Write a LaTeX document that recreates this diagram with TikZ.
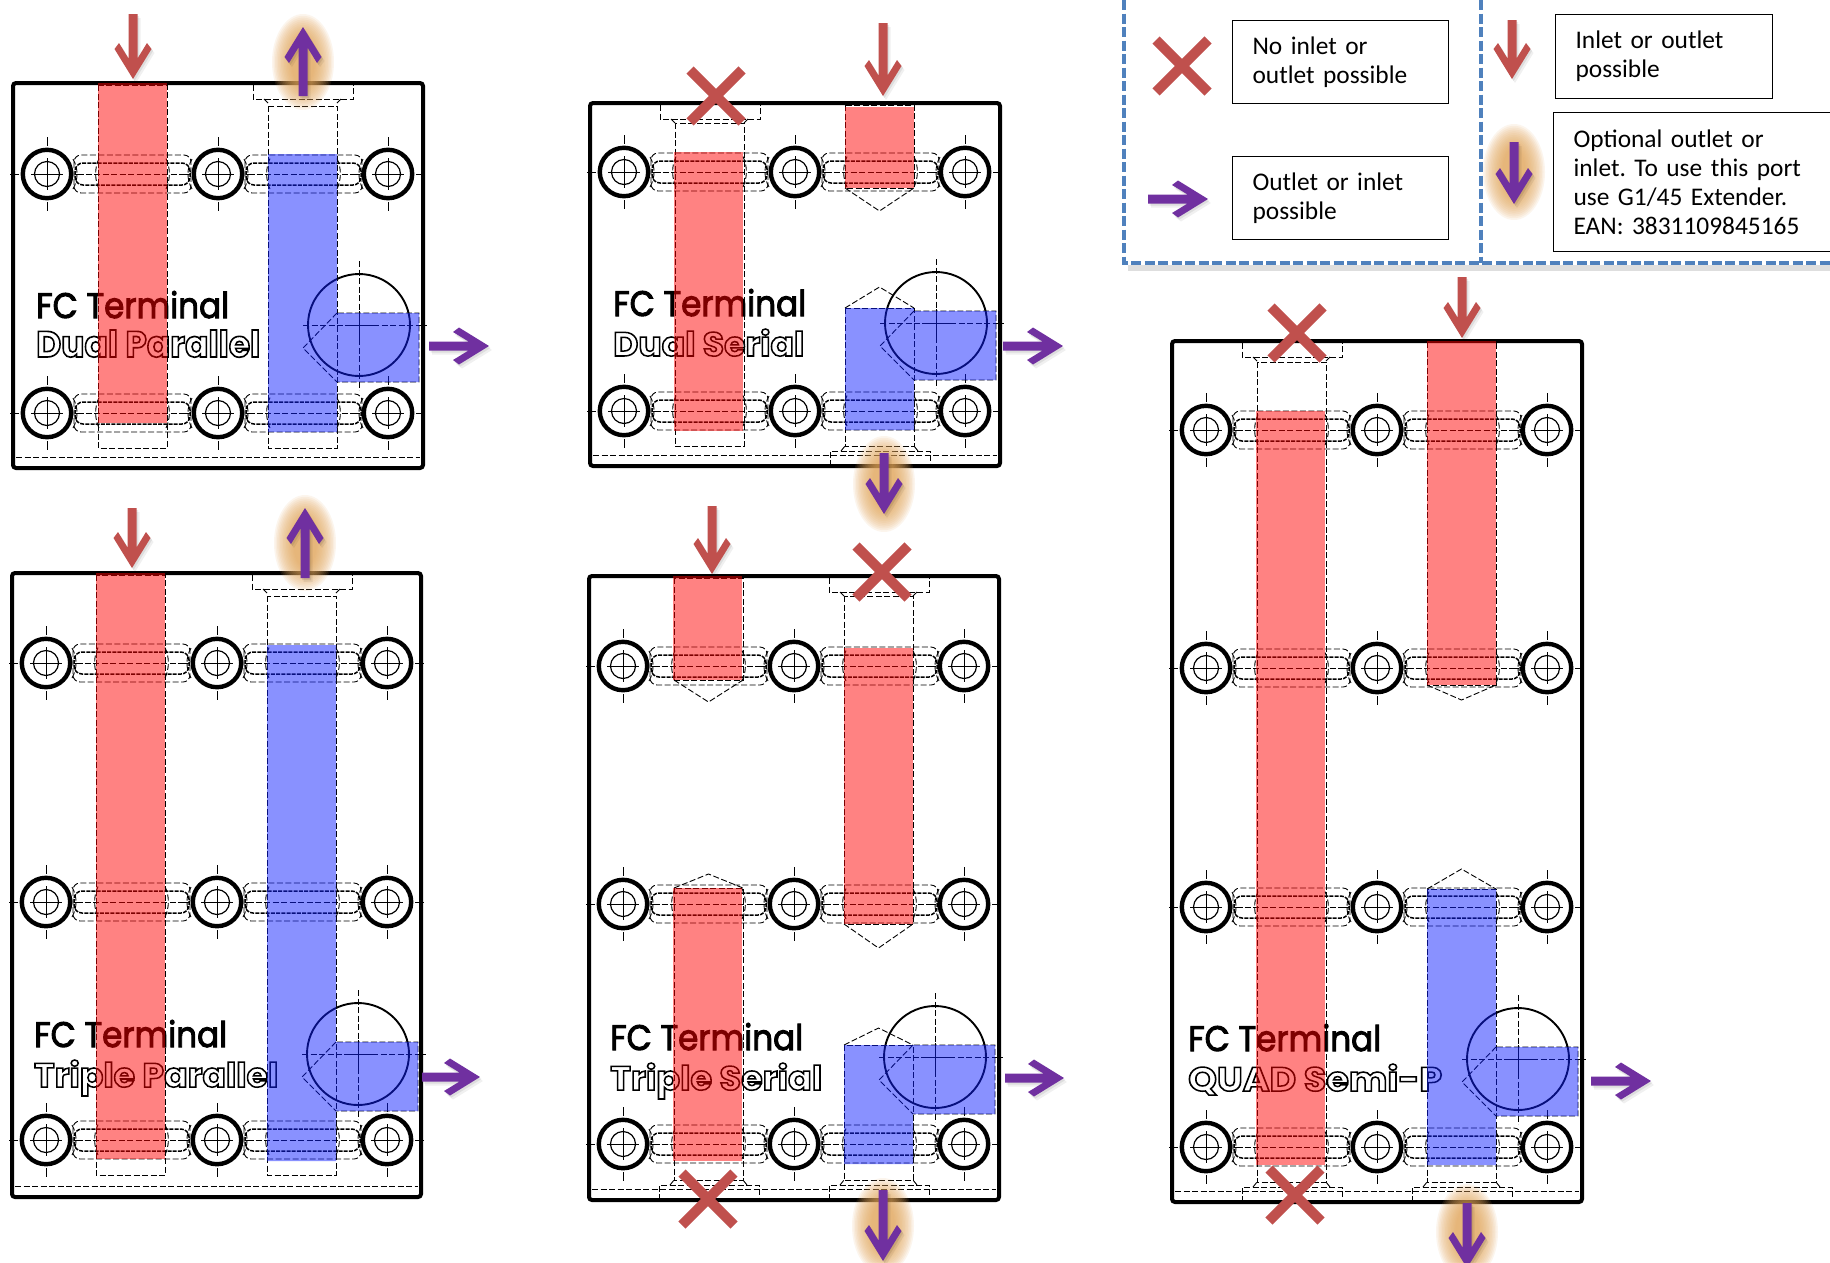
\documentclass[tikz,border=0pt]{standalone}
\usepackage{fontspec}
\setmainfont[WordSpace=0.8]{Carlito}
\newfontfamily\platefont{Poppins}
\definecolor{arrowred}{HTML}{C0504D}
\definecolor{arrowpurple}{HTML}{7030A0}
\definecolor{legendblue}{HTML}{4F81BD}
\definecolor{glowtone}{HTML}{E4A85C}
\tikzset{
  dsh/.style={line width=0.9pt,dash pattern=on 6pt off 2.5pt},
  denseline/.style={line width=1.5pt,dash pattern=on 4pt off 1.2pt},
  platebox/.style={line width=4pt,rounded corners=3pt},
  redzone/.style={fill={rgb,255:red,255;green,0;blue,0},fill opacity=.49},
  bluezone/.style={fill={rgb,255:red,16;green,32;blue,255},fill opacity=.49},
  legbox/.style={draw=black,line width=1.1pt,anchor=north west,align=left,inner xsep=20pt,inner ysep=0pt,
     font=\fontsize{25.4}{29}\selectfont\frenchspacing},
  legline/.style={draw=legendblue,line width=4pt,dash pattern=on 10pt off 3.5pt},
  legshadow/.style={draw=black,opacity=.13,line width=6pt},
  platelabel/.style={anchor=base west,inner sep=0pt},
  crossmark/.style={draw=arrowred,line width=10pt}
}
\newcommand{\arrowpoly}[1]{(0,0)--(-30,-18.5)--(-36,-14)--(-20.5,-4.5)--(-#1,-4.5)--(-#1,4.5)--(-20.5,4.5)--(-36,14)--(-30,18.5)--cycle}
\newcommand{\flowarrow}[5]{%
  \begin{scope}[shift={(#1+3,#2+4)},rotate=#3]\fill[black,opacity=.06] \arrowpoly{#4};\end{scope}
  \begin{scope}[shift={(#1+1.5,#2+2)},rotate=#3]\fill[black,opacity=.08] \arrowpoly{#4};\end{scope}
  \begin{scope}[shift={(#1,#2)},rotate=#3]\fill[#5] \arrowpoly{#4};\end{scope}}
\newcommand{\glowspot}[2]{%
  \foreach \g in {0,...,13}{\fill[glowtone,opacity=.105] (#1,#2) ellipse ({31-1.5*\g} and {48-1.8*\g});}}
\newcommand{\crossat}[2]{%
  \draw[crossmark] (#1-26,#2-26)--(#1+26,#2+26) (#1-26,#2+26)--(#1+26,#2-26);}
\newcommand{\bolt}[2]{%
  \draw[line width=4.4pt] (#1,#2) circle (24.2);
  \draw[line width=1.2pt] (#1,#2) circle (12.5);
  \draw[line width=.9pt] (#1-16,#2)--(#1+16,#2) (#1,#2-16)--(#1,#2+16);
  \draw[line width=.9pt] (#1,#2-37)--(#1,#2-28) (#1,#2+28)--(#1,#2+37) (#1-37,#2)--(#1-28,#2) (#1+28,#2)--(#1+37,#2);}
\newcommand{\slotpart}[2]{%
  \draw[dsh,rounded corners=7pt] (#1+27,#2-19) rectangle (#1+144,#2+19);
  \draw[denseline,rounded corners=8pt] (#1+28,#2-11) rectangle (#1+143,#2+11);
  \draw[dsh] (#1+52,#2+15) arc[start angle=155,end angle=205,radius=36];
  \draw[dsh] (#1+119,#2+15) arc[start angle=25,end angle=-25,radius=36];
  \draw[dsh] (#1+26,#2+15) arc[start angle=30,end angle=-30,radius=30];
  \draw[dsh] (#1+145,#2+15) arc[start angle=150,end angle=210,radius=30];
  \draw[dsh] (#1+30,#2)--(#1+141,#2);}
\newcommand{\boltrow}[1]{%
  \slotpart{34}{#1}\slotpart{205}{#1}\bolt{34}{#1}\bolt{205}{#1}\bolt{375}{#1}}
\newcommand{\dcol}[3]{\draw[dsh] (#1,#2) rectangle (#1+69,#3);}
\newcommand{\cboretop}[2]{% x of the drill, y of the plate top
  \draw[dsh] (#1-15,#2+2)--(#1-15,#2+16)--(#1+85,#2+16)--(#1+85,#2+2);
  \draw[dsh] (#1-4,#2+16)--(#1,#2+20) (#1+73,#2+16)--(#1+69,#2+20);}
\newcommand{\cborebottom}[1]{%
  \draw[dsh] (#1-15,0)--(#1-15,-15)--(#1+85,-15)--(#1+85,0);
  \draw[dsh] (#1-4,-15)--(#1,-20) (#1+73,-15)--(#1+69,-20);}
\newcommand{\coneat}[3]{\draw[dsh] (#1,#2)--(#1+34.5,#3)--(#1+69,#2);}
\newcommand{\sideport}{%
  \draw[line width=1.9pt] (346,-143) circle (51);
  \draw[line width=.9pt] (332,-143)--(360,-143) (346,-157)--(346,-129);
  \draw[dsh] (290,-143)--(332,-143) (360,-143)--(414,-143) (346,-207)--(346,-157) (346,-129)--(346,-78);
  \draw[dsh] (324,-155)--(290,-120)--(324,-86)--(406,-86)--(406,-155)--(324,-155);}
\newcommand{\platebase}[3]{%
  \draw[platebox] (0,#2) rectangle (#1,0);
  \draw[dsh] (3,-11)--(#1-3,-11);}
\newcommand{\redfill}[3]{\fill[redzone] (#1,#2) rectangle (#1+69,#3);}
\newcommand{\bluefill}[2]{\fill[bluezone] (255,#1)--(324,#1)--(324,-155)--(406,-155)--(406,-86)--(324,-86)--(324,#2)--(255,#2)--cycle;}
\newcommand{\outlined}[1]{\special{pdf:code q 1 Tr 0.45 w}#1\special{pdf:code Q}}
\newcommand{\solidmark}[1]{\special{pdf:code q 2 Tr 0.28 w}#1\special{pdf:code Q}}
\newcommand{\platecaption}[8]{%
  \node[platelabel] (#4) at (#1,#2) {\resizebox{193pt}{27pt}{\platefont\solidmark{FC Terminal}}};
  \node[platelabel] (#5) at (#1,#3) {\resizebox{#7pt}{27pt}{\platefont\bfseries\outlined{#6}}};}
\begin{document}
\begin{tikzpicture}[x=1pt,y=-1pt]
\useasboundingbox (0,0) rectangle (1830,1262);
\fill[white] (0,0) rectangle (1830,1262);

% ---- panel 1 Dual Parallel
\begin{scope}[shift={(13,468)}]
  \platebase{410}{-385}{}
  \boltrow{-294}\boltrow{-55}
  \dcol{85}{-383}{-20}\dcol{255}{-362}{-20}\cboretop{255}{-385}
  \sideport
  \platecaption{23}{-150}{-111}{capA}{capAb}{Dual Parallel}{224}{}
  \redfill{85}{-385}{-45}\bluefill{-314}{-36}
\end{scope}
\flowarrow{133}{79}{-90}{65}{arrowred}
\glowspot{303}{62}
\flowarrow{303}{27}{90}{69}{arrowpurple}
\flowarrow{489}{346}{0}{60}{arrowpurple}

% ---- panel 2 Dual Serial
\begin{scope}[shift={(590,466)}]
  \platebase{410}{-363}{}
  \boltrow{-294}\boltrow{-55}
  \dcol{85}{-343}{-20}\cboretop{85}{-363}
  \dcol{255}{-361}{-278}\coneat{255}{-278}{-255}
  \dcol{255}{-158}{-20}\coneat{255}{-158}{-179}
  \cborebottom{255}
  \sideport
  \platecaption{23}{-150}{-110}{capB}{capBb}{Dual Serial}{191}{}
  \redfill{84}{-314}{-35}\redfill{255}{-359}{-278}\bluefill{-158}{-36}
\end{scope}
\crossat{716}{96}
\flowarrow{883}{96}{-90}{73}{arrowred}
\glowspot{884}{484}
\flowarrow{884}{514}{-90}{61}{arrowpurple}
\flowarrow{1063}{346}{0}{60}{arrowpurple}

% ---- panel 3 Triple Parallel
\begin{scope}[shift={(12,1197)}]
  \platebase{409}{-624}{}
  \boltrow{-534}\boltrow{-295}\boltrow{-57}
  \dcol{84}{-622}{-22}\dcol{255}{-601}{-22}\cboretop{255}{-624}
  \sideport
  \platecaption{22}{-150}{-110}{capC}{capCb}{Triple Parallel}{244}{}
  \redfill{84}{-624}{-38}\bluefill{-552}{-36}
\end{scope}
\flowarrow{132}{568}{-90}{60}{arrowred}
\glowspot{305}{543}
\flowarrow{305}{508}{90}{70}{arrowpurple}
\flowarrow{480}{1077}{0}{58}{arrowpurple}

% ---- panel 4 Triple Serial
\begin{scope}[shift={(589,1200)}]
  \platebase{410}{-624}{}
  \boltrow{-534}\boltrow{-296}\boltrow{-56}
  \dcol{85}{-622}{-520}\coneat{85}{-520}{-498}
  \dcol{255}{-604}{-276}\cboretop{255}{-624}\coneat{255}{-276}{-252}
  \dcol{85}{-312}{-20}\coneat{85}{-312}{-326}
  \dcol{255}{-155}{-20}\coneat{255}{-155}{-172}
  \cborebottom{85}\cborebottom{255}
  \sideport
  \platecaption{21}{-150}{-110}{capD}{capDb}{Triple Serial}{212}{}
  \redfill{84}{-624}{-520}\redfill{255}{-552}{-276}\redfill{84}{-312}{-39}\bluefill{-155}{-36}
\end{scope}
\flowarrow{712}{574}{-90}{68}{arrowred}
\crossat{882}{572}
\crossat{708}{1199}
\glowspot{883}{1226}
\flowarrow{883}{1261}{-90}{71}{arrowpurple}
\flowarrow{1064}{1078}{0}{59}{arrowpurple}

% ---- panel 5 QUAD Semi-P
\begin{scope}[shift={(1172,1202)}]
  \platebase{410}{-861}{}
  \boltrow{-772}\boltrow{-534}\boltrow{-295}\boltrow{-55}
  \dcol{85}{-840}{-20}\cboretop{85}{-861}
  \dcol{255}{-860}{-517}\coneat{255}{-517}{-502}
  \dcol{255}{-313}{-20}\coneat{255}{-313}{-333}
  \cborebottom{85}\cborebottom{255}
  \sideport
  \platecaption{16}{-151}{-111}{capE}{capEb}{QUAD Semi-P}{254}{}
  \redfill{84}{-791}{-37}\redfill{255}{-861}{-517}\bluefill{-313}{-37}
\end{scope}
\flowarrow{1462}{338}{-90}{61}{arrowred}
\crossat{1297}{333}
\crossat{1295}{1195}
\glowspot{1467}{1232}
\flowarrow{1467}{1268}{-90}{65}{arrowpurple}
\flowarrow{1651}{1081}{0}{60}{arrowpurple}

% ---- legend
\draw[legshadow] (1128,268)--(1830,268);
\draw[legline] (1124,0)--(1124,263)--(1830,263);
\draw[legline] (1480.5,0)--(1480.5,263);
\node[legbox,text width=176pt,minimum height=83pt] (noport) at (1232,20) {No inlet or\\outlet possible};
\node[legbox,text width=176pt,minimum height=83pt] (outport) at (1232,156) {Outlet or inlet\\possible};
\node[legbox,text width=177pt,minimum height=84pt] (inport) at (1555,14) {Inlet or outlet\\possible};
\node[legbox,text width=270pt,minimum height=139pt] (optport) at (1553,112) {Optional outlet or\\inlet. To use this port\\use G1/45 Extender.\\EAN: 3831109845165};
\crossat{1182}{66}
\flowarrow{1208}{199}{0}{60}{arrowpurple}
\flowarrow{1512}{79}{-90}{59}{arrowred}
\glowspot{1514}{172}
\flowarrow{1514}{204}{-90}{62}{arrowpurple}
\end{tikzpicture}
\end{document}
